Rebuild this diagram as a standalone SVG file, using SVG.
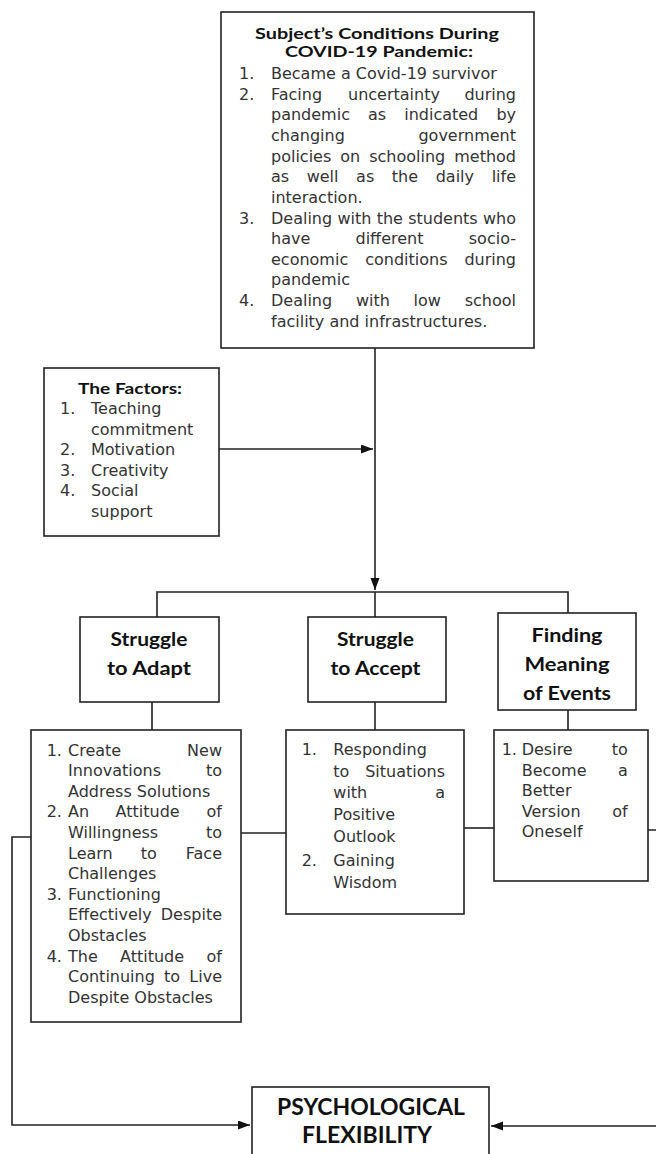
<svg xmlns="http://www.w3.org/2000/svg" width="656" height="1154" viewBox="0 0 656 1154">
<style>
.box{fill:#fff;stroke:#222;stroke-width:1.6}
.ln{fill:none;stroke:#222;stroke-width:1.6}
.t{font-family:"DejaVu Sans",Verdana,sans-serif;font-size:16px;fill:#333}
.e{text-anchor:end}
.h{font-family:Lato,"Liberation Sans",sans-serif;font-weight:bold;fill:#111;text-anchor:middle}
</style>
<defs>
<marker id="arr" markerUnits="userSpaceOnUse" markerWidth="13" markerHeight="10" refX="12" refY="4.5" orient="auto">
<path d="M0,0 L12,4.5 L0,9 z" fill="#111"/>
</marker>
</defs>
<rect width="656" height="1154" fill="#fff"/>

<g id="connectors">
<path class="ln" d="M375,348 V590" marker-end="url(#arr)"/>
<path class="ln" d="M219,449 H373" marker-end="url(#arr)"/>
<path class="ln" d="M157,617 V592 H568 V613"/>
<path class="ln" d="M375,592 V617"/>
<path class="ln" d="M152,702 V730"/>
<path class="ln" d="M375,702 V730"/>
<path class="ln" d="M568,710 V730"/>
<path class="ln" d="M241,833 H286"/>
<path class="ln" d="M464,828 H494"/>
<path class="ln" d="M31,837 H12 V1125 H250" marker-end="url(#arr)"/>
<path class="ln" d="M648,830 H660 V1126 H491" marker-end="url(#arr)"/>
</g>

<g id="conditions">
<rect class="box" x="221" y="12" width="313" height="336"/>
<text class="h" x="377" y="38.5" font-size="16" textLength="244" lengthAdjust="spacingAndGlyphs">Subject’s Conditions During</text>
<text class="h" x="379" y="57" font-size="16" textLength="188" lengthAdjust="spacingAndGlyphs">COVID-19 Pandemic:</text>
<text class="t" x="239" y="79">1.</text>
<text class="t" x="271" y="79">Became a Covid-19 survivor</text>
<text class="t" x="239" y="99.6">2.</text>
<text class="t" x="271" y="99.6">Facing</text><text class="t" x="348" y="99.6">uncertainty</text><text class="t e" x="516" y="99.6">during</text>
<text class="t" x="271" y="120.3">pandemic</text><text class="t" x="368" y="120.3">as</text><text class="t" x="404.2" y="120.3">indicated</text><text class="t e" x="516" y="120.3">by</text>
<text class="t" x="271" y="140.9">changing</text><text class="t e" x="516" y="140.9">government</text>
<text class="t" x="271" y="161.6">policies</text><text class="t" x="340.3" y="161.6">on</text><text class="t" x="369.2" y="161.6">schooling</text><text class="t e" x="516" y="161.6">method</text>
<text class="t" x="271" y="182.2">as</text><text class="t" x="306.7" y="182.2">well</text><text class="t" x="356.1" y="182.2">as</text><text class="t" x="391.8" y="182.2">the</text><text class="t" x="435.7" y="182.2">daily</text><text class="t e" x="516" y="182.2">life</text>
<text class="t" x="271" y="202.8">interaction.</text>
<text class="t" x="239" y="223.5">3.</text>
<text class="t" x="271" y="223.5">Dealing</text><text class="t" x="337.5" y="223.5">with</text><text class="t" x="376.7" y="223.5">the</text><text class="t" x="408.2" y="223.5">students</text><text class="t e" x="516" y="223.5">who</text>
<text class="t" x="271" y="244.1">have</text><text class="t" x="355.5" y="244.1">different</text><text class="t e" x="516" y="244.1">socio-</text>
<text class="t" x="271" y="264.8">economic</text><text class="t" x="365.2" y="264.8">conditions</text><text class="t e" x="516" y="264.8">during</text>
<text class="t" x="271" y="285.4">pandemic</text>
<text class="t" x="239" y="306">4.</text>
<text class="t" x="271" y="306">Dealing</text><text class="t" x="355.9" y="306">with</text><text class="t" x="413.6" y="306">low</text><text class="t e" x="516" y="306">school</text>
<text class="t" x="271" y="326.7">facility and infrastructures.</text>
</g>

<g id="factors">
<rect class="box" x="44" y="368" width="175" height="168"/>
<text class="h" x="130" y="393.5" font-size="15" textLength="104" lengthAdjust="spacingAndGlyphs">The Factors:</text>
<text class="t" x="60" y="414">1.</text><text class="t" x="91" y="414">Teaching</text>
<text class="t" x="91" y="434.5">commitment</text>
<text class="t" x="60" y="455">2.</text><text class="t" x="91" y="455">Motivation</text>
<text class="t" x="60" y="475.5">3.</text><text class="t" x="91" y="475.5">Creativity</text>
<text class="t" x="60" y="496">4.</text><text class="t" x="91" y="496">Social</text>
<text class="t" x="91" y="516.6">support</text>
</g>

<g id="adapt">
<rect class="box" x="80" y="617" width="139" height="85"/>
<text class="h" x="149" y="646" font-size="19" textLength="77" lengthAdjust="spacingAndGlyphs">Struggle</text>
<text class="h" x="149" y="675" font-size="19" textLength="84" lengthAdjust="spacingAndGlyphs">to Adapt</text>
</g>

<g id="accept">
<rect class="box" x="308" y="617" width="138" height="85"/>
<text class="h" x="375.5" y="646" font-size="19" textLength="77" lengthAdjust="spacingAndGlyphs">Struggle</text>
<text class="h" x="375.5" y="675" font-size="19" textLength="90" lengthAdjust="spacingAndGlyphs">to Accept</text>
</g>

<g id="meaning">
<rect class="box" x="498" y="613" width="138" height="97"/>
<text class="h" x="567" y="641.7" font-size="19" textLength="71" lengthAdjust="spacingAndGlyphs">Finding</text>
<text class="h" x="567" y="671" font-size="19" textLength="85" lengthAdjust="spacingAndGlyphs">Meaning</text>
<text class="h" x="567" y="700" font-size="19" textLength="88" lengthAdjust="spacingAndGlyphs">of Events</text>
</g>

<g id="adapt-list">
<rect class="box" x="31" y="730" width="210" height="292"/>
<text class="t" x="46.7" y="755.5">1.</text>
<text class="t" x="68" y="755.5">Create</text><text class="t e" x="222" y="755.5">New</text>
<text class="t" x="68" y="776.1">Innovations</text><text class="t e" x="222" y="776.1">to</text>
<text class="t" x="68" y="796.7">Address Solutions</text>
<text class="t" x="46.7" y="817.3">2.</text>
<text class="t" x="68" y="817.3">An</text><text class="t" x="115.6" y="817.3">Attitude</text><text class="t e" x="222" y="817.3">of</text>
<text class="t" x="68" y="837.9">Willingness</text><text class="t e" x="222" y="837.9">to</text>
<text class="t" x="68" y="858.5">Learn</text><text class="t" x="140.8" y="858.5">to</text><text class="t e" x="222" y="858.5">Face</text>
<text class="t" x="68" y="879.1">Challenges</text>
<text class="t" x="46.7" y="899.7">3.</text>
<text class="t" x="68" y="899.7">Functioning</text>
<text class="t" x="68" y="920.3">Effectively</text><text class="t e" x="222" y="920.3">Despite</text>
<text class="t" x="68" y="940.9">Obstacles</text>
<text class="t" x="46.7" y="961.5">4.</text>
<text class="t" x="68" y="961.5">The</text><text class="t" x="120" y="961.5">Attitude</text><text class="t e" x="222" y="961.5">of</text>
<text class="t" x="68" y="982.1">Continuing</text><text class="t" x="164" y="982.1">to</text><text class="t e" x="222" y="982.1">Live</text>
<text class="t" x="68" y="1002.7">Despite Obstacles</text>
</g>

<g id="accept-list">
<rect class="box" x="286" y="730" width="178" height="184"/>
<text class="t" x="301.7" y="755">1.</text>
<text class="t" x="333.3" y="755">Responding</text>
<text class="t" x="333.3" y="776.7">to</text><text class="t e" x="445" y="776.7">Situations</text>
<text class="t" x="333.3" y="798.4">with</text><text class="t e" x="445" y="798.4">a</text>
<text class="t" x="333.3" y="820.1">Positive</text>
<text class="t" x="333.3" y="841.8">Outlook</text>
<text class="t" x="301.7" y="865.5">2.</text>
<text class="t" x="333.3" y="865.5">Gaining</text>
<text class="t" x="333.3" y="887.5">Wisdom</text>
</g>

<g id="meaning-list">
<rect class="box" x="494" y="730" width="154" height="151"/>
<text class="t" x="501.7" y="755">1.</text>
<text class="t" x="521.7" y="755">Desire</text><text class="t e" x="627.7" y="755">to</text>
<text class="t" x="521.7" y="775.6">Become</text><text class="t e" x="627.7" y="775.6">a</text>
<text class="t" x="521.7" y="796.2">Better</text>
<text class="t" x="521.7" y="816.8">Version</text><text class="t e" x="627.7" y="816.8">of</text>
<text class="t" x="521.7" y="837.4">Oneself</text>
</g>

<g id="flexibility">
<rect class="box" x="252" y="1087" width="237" height="80"/>
<text class="h" x="371" y="1115" font-size="22" textLength="188" lengthAdjust="spacingAndGlyphs">PSYCHOLOGICAL</text>
<text class="h" x="367" y="1143" font-size="22" textLength="130" lengthAdjust="spacingAndGlyphs">FLEXIBILITY</text>
</g>
</svg>
